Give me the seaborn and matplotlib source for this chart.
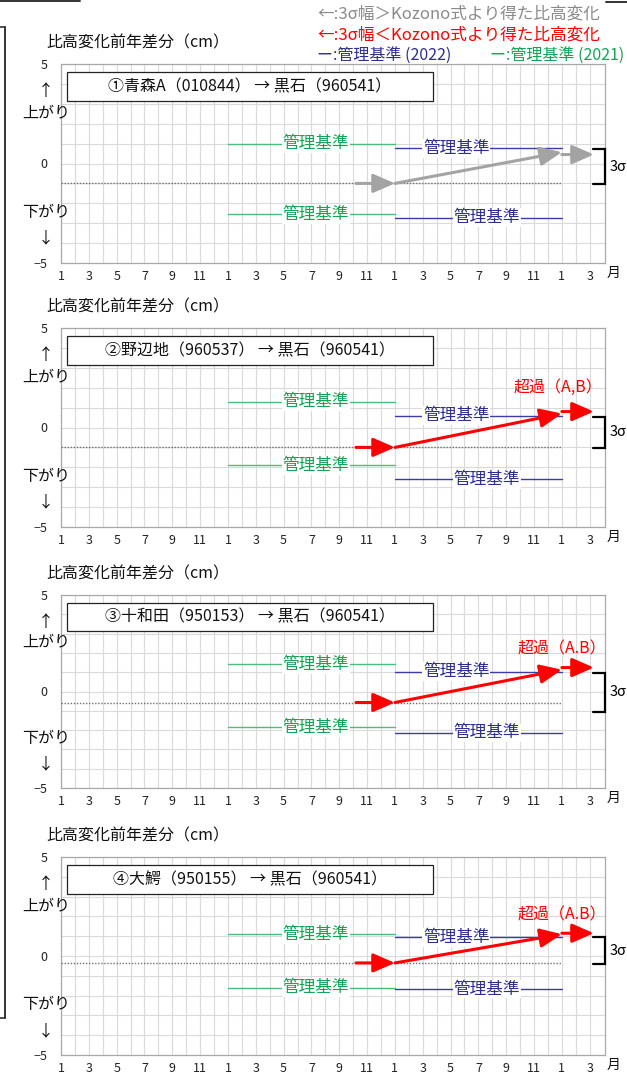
import matplotlib
matplotlib.use("Agg")
import matplotlib.pyplot as plt
from matplotlib.patches import Rectangle
from matplotlib.lines import Line2D
import seaborn as sns

# ---- data -------------------------------------------------------------
TITLES = [
    "①青森A（010844） → 黒石（960541）",
    "②野辺地（960537） → 黒石（960541）",
    "③十和田（950153） → 黒石（960541）",
    "④大鰐（950155） → 黒石（960541）",
]
MONTH_LABELS = ["1", "3", "5", "7", "9", "11"] * 3 + ["1", "3"]

# month index: 0 = Jan of the first year shown
CRIT_2021_X = [12, 24]
CRIT_2022_X = [24, 36]
BASELINE_X = [0, 36]
ARROW_X = [21.2, 24, 36, 38.3]

baseline = [-1.0, -1.0, -0.57, -0.35]
crit2021_upper = [0.98, 1.3, 1.4, 1.1]
crit2021_lower = [-2.55, -1.9, -1.85, -1.6]
crit2022_upper = [0.76, 0.6, 1.03, 0.95]
crit2022_lower = [-2.73, -2.6, -2.15, -1.67]
change_mid = [0.57, 0.7, 1.13, 1.1]
change_end = [0.45, 0.8, 1.24, 1.15]
sigma_top = [0.72, 0.55, 0.98, 0.95]
sigma_bottom = [-1.05, -1.05, -1.08, -0.4]
exceeded = [False, True, True, True]
exceed_text = ["", "超過（A,B）", "超過（A.B）", "超過（A.B）"]
exceed_pos = [(0, 0), (35.7, 2.0), (36.0, 2.2), (36.0, 2.05)]

# ---- style ------------------------------------------------------------
sns.set_theme(style="whitegrid")
plt.rcParams["font.family"] = ["Noto Sans CJK JP", "DejaVu Sans"]
plt.rcParams["axes.unicode_minus"] = True

GREEN = "#12a454"
GREEN_LINE = "#4dbb7c"
NAVY = "#2d2f8f"
NAVY_LINE = "#3b3ca6"
RED = "#ff0000"
GRAY = "#a3a3a3"

W, H = 627, 1076
fig = plt.figure(figsize=(W / 100, H / 100), dpi=100)

tops = [64, 328, 595, 857]
bottoms = [263, 527, 788, 1055]
LEFT, RIGHT = 61, 605


def crit_line(ax, xs, y, line_c, text_c, label_x):
    sns.lineplot(x=xs, y=[y, y], ax=ax, color=line_c, lw=1.0, zorder=3)
    ax.text(label_x, y, "管理基準", color=text_c, fontsize=12, ha="center",
            va="center", zorder=4,
            bbox=dict(fc="white", ec="none", pad=0.6))


for i in range(4):
    ax = fig.add_axes([LEFT / W, 1 - bottoms[i] / H, (RIGHT - LEFT) / W,
                       (bottoms[i] - tops[i]) / H])
    ax.set_xlim(0, 39.1)
    ax.set_ylim(-5, 5)
    ax.set_xticks(range(0, 39, 2))
    ax.set_xticklabels(MONTH_LABELS)
    ax.set_xticks(range(1, 39, 2), minor=True)
    ax.set_yticks([-5, 0, 5])
    ax.set_yticklabels(["−5", "0", "5"])
    ax.set_yticks(range(-4, 5), minor=True)
    ax.tick_params(axis="both", which="both", length=0, labelsize=9,
                   colors="#222222")
    ax.tick_params(axis="x", pad=5)
    ax.tick_params(axis="y", pad=9.5)
    ax.grid(which="both", color="#dadada", lw=0.8)
    ax.set_facecolor("white")
    for s in ax.spines.values():
        s.set_color("#a8a8a8")
        s.set_linewidth(0.9)
    ax.set_axisbelow(True)

    # baseline
    sns.lineplot(x=BASELINE_X, y=[baseline[i]] * 2, ax=ax, color="#707070",
                 lw=1.0, linestyle=(0, (1, 1.2)), zorder=3)

    # control criteria
    crit_line(ax, CRIT_2021_X, crit2021_upper[i], GREEN_LINE, GREEN, 18.3)
    crit_line(ax, CRIT_2021_X, crit2021_lower[i], GREEN_LINE, GREEN, 18.3)
    crit_line(ax, CRIT_2022_X, crit2022_upper[i], NAVY_LINE, NAVY, 28.4)
    crit_line(ax, CRIT_2022_X, crit2022_lower[i], NAVY_LINE, NAVY, 30.6)

    # height-change arrows
    col = RED if exceeded[i] else GRAY
    pts = [(ARROW_X[0], baseline[i]), (ARROW_X[1], baseline[i]),
           (ARROW_X[2], change_mid[i]), (ARROW_X[3], change_end[i])]
    segs = [(pts[0], pts[1]), (pts[1], pts[2]),
            ((ARROW_X[2], change_end[i]), pts[3])]
    for a, b in segs:
        ax.annotate("", xy=b, xytext=a, annotation_clip=False,
                    arrowprops=dict(arrowstyle="-|>,head_length=1.1,head_width=0.48",
                                    mutation_scale=12, color=col, lw=2.2,
                                    shrinkA=0, shrinkB=0),
                    zorder=6)
    if exceeded[i]:
        ax.text(*exceed_pos[i], exceed_text[i], color=RED, fontsize=11.5,
                ha="center", va="center", zorder=6)

    # 3-sigma bracket
    bx0, bx1 = 38.25, 39.1
    ax.plot([bx0, bx1, bx1, bx0],
            [sigma_top[i], sigma_top[i], sigma_bottom[i], sigma_bottom[i]],
            color="black", lw=1.6, clip_on=False, zorder=7,
            solid_joinstyle="miter")
    ax.annotate("3σ", xy=(1, (sigma_top[i] + sigma_bottom[i]) / 2),
                xycoords=("axes fraction", "data"), xytext=(3, 0),
                textcoords="offset points", ha="left", va="center",
                fontsize=10.5, color="black", annotation_clip=False)

    # title box
    ax.add_patch(Rectangle((0.011, 0.814), 0.673, 0.146,
                           transform=ax.transAxes, fc="white", ec="#222222",
                           lw=0.9, zorder=8))
    ax.text(0.3475, 0.887, TITLES[i], transform=ax.transAxes, fontsize=11.5,
            ha="center", va="center", zorder=9, color="#111111")

    # axis captions
    ax.annotate("比高変化前年差分（cm）", xy=(0, 1), xycoords="axes fraction",
                xytext=(-10.5, 15), textcoords="offset points", ha="left",
                va="center", fontsize=11.5, color="#111111",
                annotation_clip=False)
    ax.annotate("月", xy=(1, 0), xycoords="axes fraction", xytext=(1, -7.5),
                textcoords="offset points", ha="left", va="center",
                fontsize=10, color="#111111", annotation_clip=False)
    cx = (46 - LEFT) / (RIGHT - LEFT)
    for txt, yv in [("↑", 3.6), ("上がり", 2.55), ("下がり", -2.45), ("↓", -3.75)]:
        ax.text(cx, yv, txt, transform=ax.get_yaxis_transform(), ha="center",
                va="center", fontsize=11.5, color="#111111", clip_on=False)

# ---- legend block (top right) ----------------------------------------
legend_rows = [
    (317, 14, "←:3σ幅＞Kozono式より得た比高変化", "#8a8a8a", 12),
    (317, 35, "←:3σ幅＜Kozono式より得た比高変化", RED, 12),
    (317, 55, "ー:管理基準 (2022)", NAVY, 11.5),
    (490, 55, "ー:管理基準 (2021)", GREEN, 11.5),
]
for x, y, txt, c, fs in legend_rows:
    fig.text(x / W, 1 - y / H, txt, color=c, fontsize=fs, ha="left",
             va="center")

# frame edge on the left and top
fig.add_artist(Line2D([5 / W, 5 / W], [1 - 27 / H, 1 - 1018 / H],
                      color="#333333", lw=1.4))
fig.add_artist(Line2D([0, 5 / W], [1 - 27 / H, 1 - 27 / H], color="#333333", lw=1.2))
fig.add_artist(Line2D([0, 5 / W], [1 - 1018 / H, 1 - 1018 / H], color="#333333", lw=1.2))
fig.add_artist(Line2D([0, 80 / W], [1 - 1 / H, 1 - 1 / H], color="#333333", lw=1.4))
fig.add_artist(Line2D([606 / W, 1], [1 - 2 / H, 1 - 2 / H], color="#333333", lw=1.4))

fig.savefig("out.png", dpi=100, facecolor="white")
